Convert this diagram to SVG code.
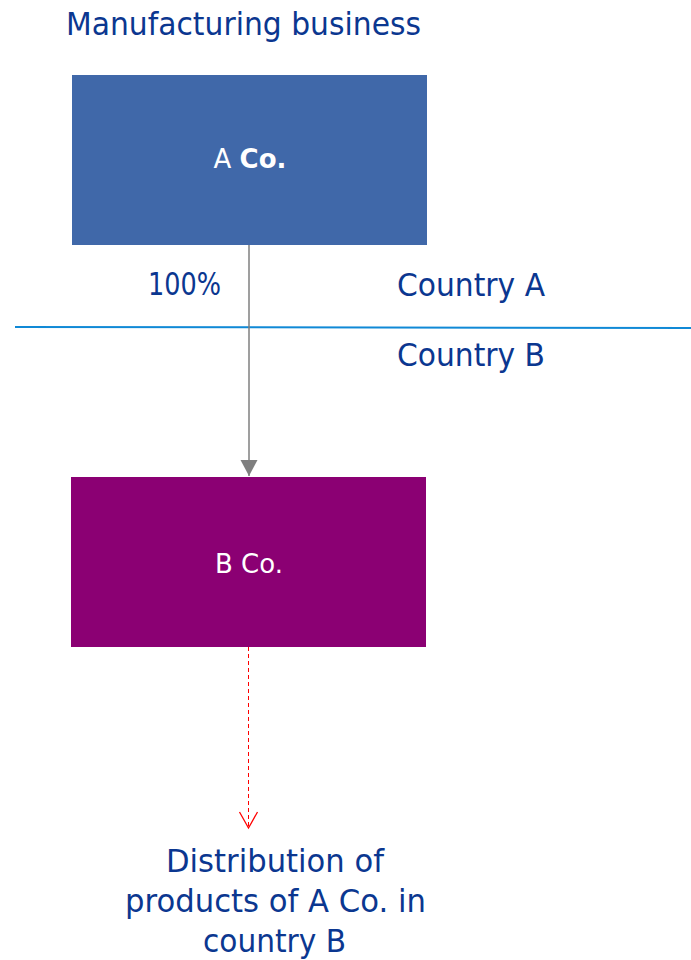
<svg xmlns="http://www.w3.org/2000/svg" width="691" height="960" viewBox="0 0 691 960">
<defs>
<style>
.t{font-family:"DejaVu Sans","Liberation Sans",sans-serif;fill:#0B3790;}
.big{font-size:32px;}
.box{font-family:"DejaVu Sans","Liberation Sans",sans-serif;font-size:26px;fill:#ffffff;text-anchor:middle;}
</style>
<marker id="tri" markerWidth="18" markerHeight="18" refX="16" refY="8.5" orient="auto" markerUnits="userSpaceOnUse">
<path d="M0,0 L16,8.5 L0,17 Z" fill="#7F7F7F"/>
</marker>
<marker id="vee" markerWidth="20" markerHeight="22" refX="17" refY="10" orient="auto" markerUnits="userSpaceOnUse">
<path d="M1,1 L17,10 L1,19" fill="none" stroke="#FF0000" stroke-width="1.3"/>
</marker>
</defs>
<rect width="691" height="960" fill="#ffffff"/>
<text class="t big" x="66" y="35" textLength="355" lengthAdjust="spacingAndGlyphs">Manufacturing business</text>
<line x1="15" y1="327" x2="691" y2="328" stroke="#1089D6" stroke-width="2"/>
<g id="connectors">
<line x1="249" y1="245" x2="249" y2="476" stroke="#7F7F7F" stroke-width="1.5" marker-end="url(#tri)"/>
<line x1="248.5" y1="647" x2="248.5" y2="828" stroke="#FF0000" stroke-width="1" stroke-dasharray="4,3" marker-end="url(#vee)"/>
</g>
<g id="nodeA">
<rect x="72" y="75" width="355" height="170" fill="#4068A9"/>
<text class="box" x="250" y="168">A <tspan font-weight="bold">Co.</tspan></text>
</g>
<g id="nodeB">
<rect x="71" y="477" width="355" height="170" fill="#8B0073"/>
<text class="box" x="249" y="573">B Co.</text>
</g>
<g id="labels">
<text class="t big" x="148" y="295" textLength="73" lengthAdjust="spacingAndGlyphs">100%</text>
<text class="t big" x="397" y="296" textLength="148" lengthAdjust="spacingAndGlyphs">Country A</text>
<text class="t big" x="397" y="366" textLength="148" lengthAdjust="spacingAndGlyphs">Country B</text>
</g>
<g id="distribution">
<text class="t big" x="166" y="872" textLength="218" lengthAdjust="spacingAndGlyphs">Distribution of</text>
<text class="t big" x="125" y="912" textLength="301" lengthAdjust="spacingAndGlyphs">products of A Co. in</text>
<text class="t big" x="203" y="952" textLength="143" lengthAdjust="spacingAndGlyphs">country B</text>
</g>
</svg>
